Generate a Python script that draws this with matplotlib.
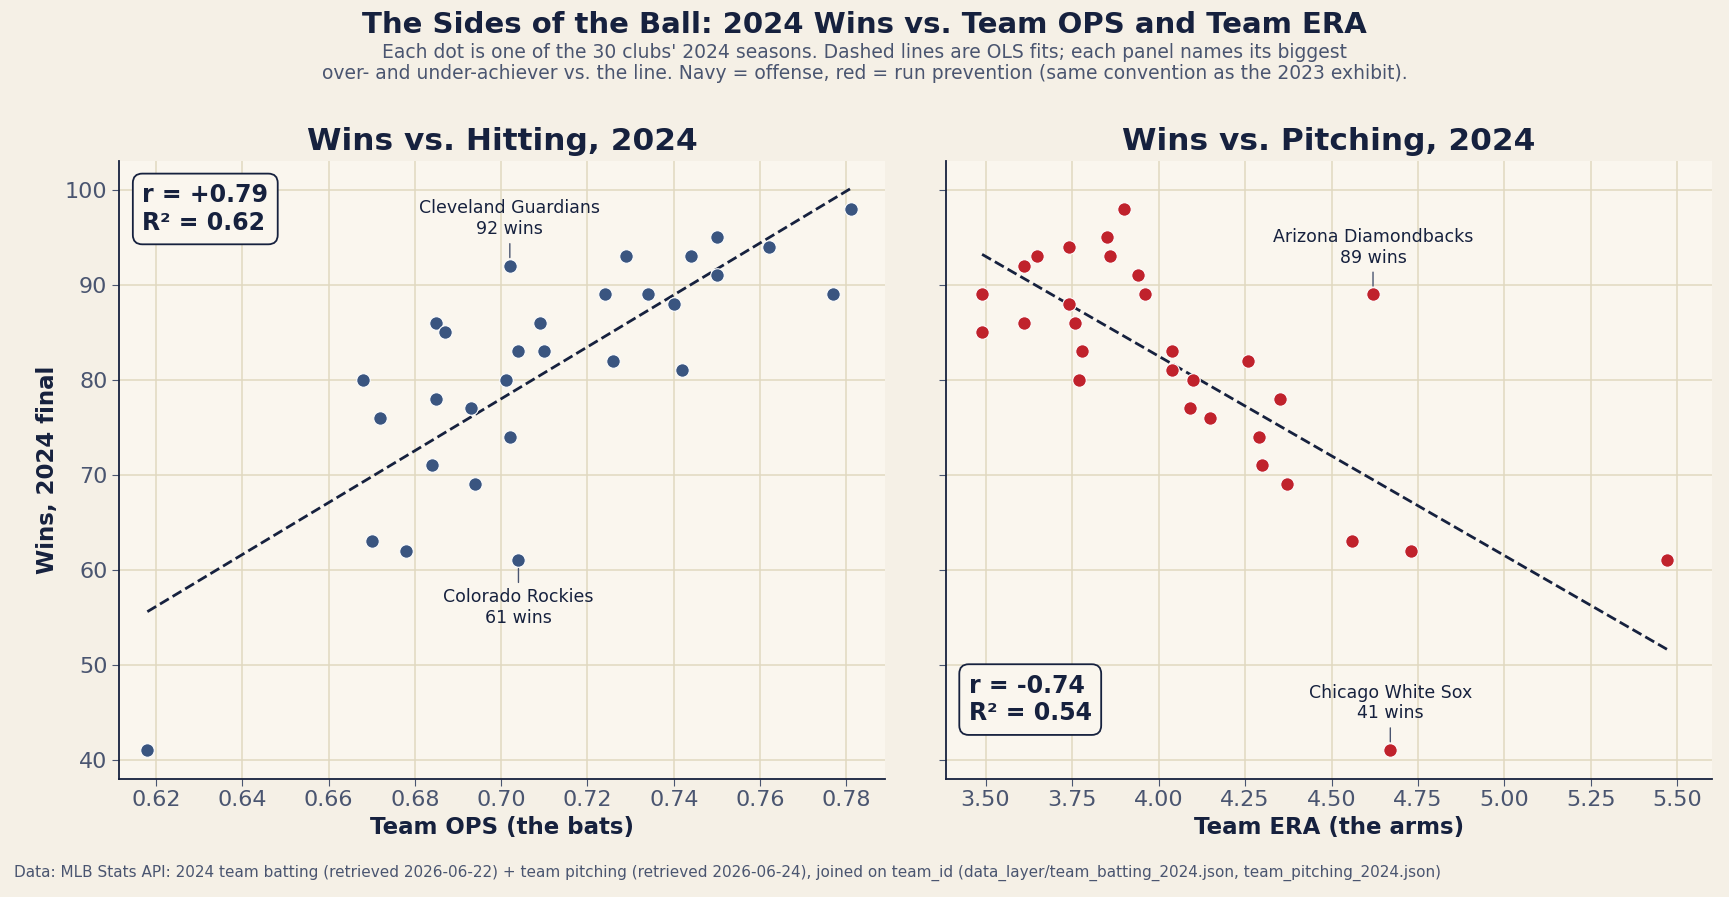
import numpy as np
import matplotlib
matplotlib.use("Agg")
import matplotlib.pyplot as plt

ops = [0.618,0.668,0.672,0.670,0.678,0.684,0.685,0.685,0.687,0.693,0.694,0.701,0.702,0.702,0.704,
       0.704,0.709,0.710,0.724,0.726,0.729,0.734,0.740,0.742,0.744,0.750,0.750,0.762,0.777,0.781]
wins_ops = [41,80,76,63,62,71,86,78,85,77,69,80,74,92,83,61,86,83,89,82,93,89,88,81,93,95,91,94,89,98]
era = [3.49,3.49,3.61,3.61,3.65,3.74,3.74,3.76,3.77,3.78,3.85,3.86,3.90,3.94,3.96,4.04,4.04,4.09,4.10,
       4.15,4.26,4.29,4.30,4.35,4.37,4.56,4.62,4.67,4.73,5.47]
wins_era = [89,85,92,86,93,94,88,86,80,83,95,93,98,91,89,83,81,77,80,76,82,74,71,78,69,63,89,41,62,61]

BG = "#f5f0e6"; AX = "#faf6ee"; NAVY = "#16213e"; GRID = "#e0d8c0"; TICK = "#4a5570"
fig = plt.figure(figsize=(17.29, 8.97), dpi=100, facecolor=BG)
fig.text(0.5, 0.972, "The Sides of the Ball: 2024 Wins vs. Team OPS and Team ERA", ha="center", va="center",
         fontsize=21, fontweight="bold", color=NAVY)
fig.text(0.5, 0.93, "Each dot is one of the 30 clubs' 2024 seasons. Dashed lines are OLS fits; each panel names its biggest\n"
         "over- and under-achiever vs. the line. Navy = offense, red = run prevention (same convention as the 2023 exhibit).",
         ha="center", va="center", fontsize=13.5, color=TICK, linespacing=1.15)
fig.text(0.008, 0.027, "Data: MLB Stats API: 2024 team batting (retrieved 2026-06-22) + team pitching (retrieved 2026-06-24), joined on team_id (data_layer/team_batting_2024.json, team_pitching_2024.json)",
         fontsize=11, color=TICK, va="center")

ax1 = fig.add_axes([0.069, 0.132, 0.443, 0.688])
ax2 = fig.add_axes([0.547, 0.132, 0.443, 0.688], sharey=ax1)

def panel(ax, x, y, color, title, xlabel, boxpos, ann, xticks, fmt):
    ax.set_facecolor(AX)
    ax.grid(True, color=GRID, lw=1.1)
    ax.set_axisbelow(True)
    ax.scatter(x, y, s=95, color=color, edgecolor="white", linewidth=0.8, zorder=3)
    x = np.array(x); y = np.array(y)
    b, a = np.polyfit(x, y, 1)
    xx = np.array([x.min(), x.max()])
    ax.plot(xx, a + b * xx, ls="--", color=NAVY, lw=2, zorder=2)
    r = np.corrcoef(x, y)[0, 1]
    ax.text(boxpos[0], boxpos[1], f"r = {r:+.2f}\nR² = {r*r:.2f}", transform=ax.transAxes, fontsize=17,
            fontweight="bold", color=NAVY, va="top", ha="left",
            bbox=dict(boxstyle="round,pad=0.4", fc=AX, ec=NAVY, lw=1.3))
    for name, px, py, dy in ann:
        ax.annotate(f"{name}\n{py} wins", xy=(px, py), xytext=(0, dy), textcoords="offset points",
                    ha="center", va="bottom" if dy > 0 else "top", fontsize=12.5, color=NAVY,
                    arrowprops=dict(arrowstyle="-", color=TICK, lw=1, shrinkA=2, shrinkB=6))
    ax.set_title(title, fontsize=22.5, fontweight="bold", color=NAVY, pad=8)
    ax.set_xlabel(xlabel, fontsize=16.5, fontweight="bold", color=NAVY)
    ax.set_xticks(xticks)
    ax.set_xticklabels([fmt.format(t) for t in xticks])
    ax.tick_params(colors=TICK, labelsize=16, length=5)
    for s in ["top", "right"]:
        ax.spines[s].set_visible(False)
    for s in ["left", "bottom"]:
        ax.spines[s].set_color(NAVY); ax.spines[s].set_linewidth(1.3)

panel(ax1, ops, wins_ops, "#3a5580", "Wins vs. Hitting, 2024", "Team OPS (the bats)", (0.03, 0.965),
      [("Cleveland Guardians", 0.702, 92, 20), ("Colorado Rockies", 0.704, 61, -20)],
      np.arange(0.62, 0.781, 0.02), "{:.2f}")
panel(ax2, era, wins_era, "#c0222c", "Wins vs. Pitching, 2024", "Team ERA (the arms)", (0.03, 0.17),
      [("Arizona Diamondbacks", 4.62, 89, 20), ("Chicago White Sox", 4.67, 41, 20)],
      np.arange(3.5, 5.51, 0.25), "{:.2f}")
ax1.set_xlim(0.6115, 0.789)
ax2.set_xlim(3.385, 5.599)
ax1.set_ylim(38, 103)
ax1.set_yticks(range(40, 101, 10))
ax1.set_ylabel("Wins, 2024 final", fontsize=16.5, fontweight="bold", color=NAVY)
plt.setp(ax2.get_yticklabels(), visible=False)
fig.savefig("out.png", dpi=100, facecolor=BG)
